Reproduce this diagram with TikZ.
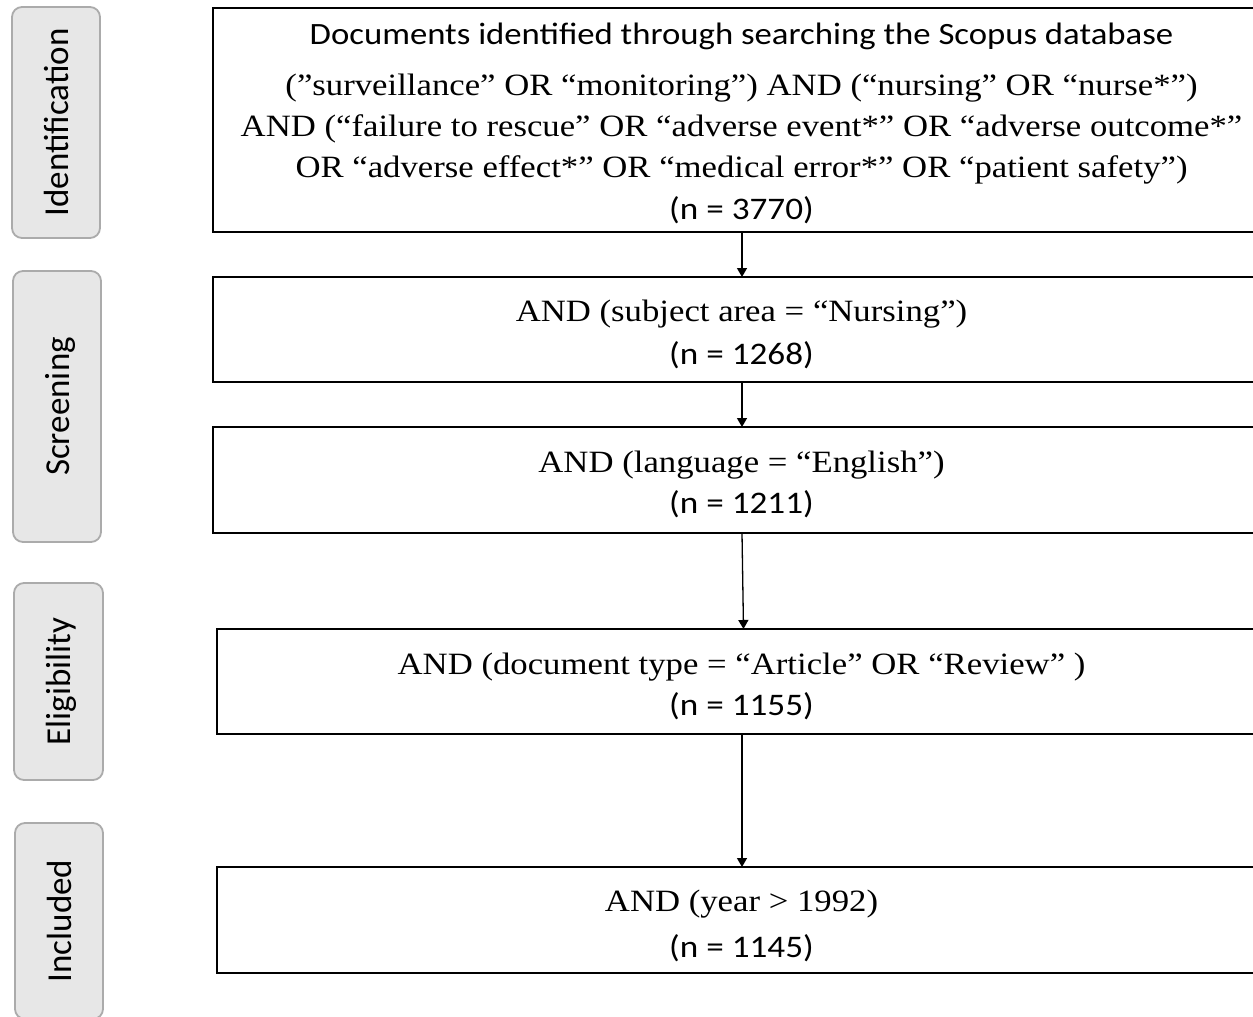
\documentclass[tikz,border=0pt]{standalone}
\usepackage{fontspec}
\setmainfont{Liberation Serif}
\newfontfamily\serifS{Liberation Serif}[FakeStretch=1.12]
\newfontfamily\sansS{Carlito}[FakeStretch=1.12]
\newfontfamily\sideS{Carlito}
\usetikzlibrary{arrows.meta}
\definecolor{sidefill}{HTML}{E7E7E7}
\definecolor{sideline}{HTML}{ABABAB}
\tikzset{
  mainbox/.style={draw=black, line width=2pt, inner sep=0pt, outer sep=0pt},
  sidebox/.style={draw=sideline, fill=sidefill, line width=1.8pt, rounded corners=10pt,
    rotate=90, inner sep=0pt, outer sep=0pt,
    font=\sideS\fontsize{35}{42}\selectfont, text height=24pt, text depth=0pt},
  sertxt/.style={anchor=base, inner sep=0pt, font=\serifS\fontsize{31}{37}\selectfont},
  santxt/.style={anchor=base, inner sep=0pt, font=\sansS\fontsize{31}{37}\selectfont},
  numtxt/.style={anchor=base, inner sep=0pt, font=\sansS\fontsize{31.4}{37}\selectfont},
  arr/.style={line width=1.3pt, -{Triangle[length=9pt,width=10pt]}}
}
\begin{document}
\begin{tikzpicture}[x=1pt,y=-1pt]
\useasboundingbox (0,0) rectangle (1253,1017);
% side labels
\node[sidebox, minimum width=231pt, minimum height=88pt] (sid) at (56,122.5) {Identification};
\node[sidebox, minimum width=271pt, minimum height=88pt] (sscr) at (57,406.5) {Screening};
\node[sidebox, minimum width=197pt, minimum height=89pt] (selig) at (58.5,681.5) {Eligibility};
\node[sidebox, minimum width=196pt, minimum height=88pt] (sinc) at (59,921) {Included};
% main boxes
\node[mainbox, minimum width=1058pt, minimum height=224pt] (b1) at (742,120) {};
\node[mainbox, minimum width=1058pt, minimum height=105pt] (b2) at (742,329.5) {};
\node[mainbox, minimum width=1058pt, minimum height=106pt] (b3) at (742,480) {};
\node[mainbox, minimum width=1050pt, minimum height=105pt] (b4) at (742,681.5) {};
\node[mainbox, minimum width=1050pt, minimum height=106pt] (b5) at (742,920) {};
% texts box 1
\node[santxt] (t1a) at (741.5,44) {Documents identified through searching the Scopus database};
\node[sertxt] (t1b) at (741.5,95) {(”surveillance” OR “monitoring”) AND (“nursing” OR “nurse*”)};
\node[sertxt] (t1c) at (741.5,136.5) {AND (“failure to rescue” OR “adverse event*” OR “adverse outcome*”};
\node[sertxt] (t1d) at (741.5,177.5) {OR “adverse effect*” OR “medical error*” OR “patient safety”)};
\node[numtxt] (t1e) at (741.5,219) {(n = 3770)};
% box 2
\node[sertxt] (t2a) at (741.5,321) {AND (subject area = “Nursing”)};
\node[numtxt] (t2b) at (741.5,364) {(n = 1268)};
% box 3
\node[sertxt] (t3a) at (741.5,472) {AND (language = “English”)};
\node[numtxt] (t3b) at (741.5,513) {(n = 1211)};
% box 4
\node[sertxt] (t4a) at (741.5,674) {AND (document type = “Article” OR “Review” )};
\node[numtxt] (t4b) at (741.5,715) {(n = 1155)};
% box 5
\node[sertxt] (t5a) at (741.5,911) {AND (year > 1992)};
\node[numtxt] (t5b) at (741.5,957) {(n = 1145)};
% arrows
\draw[arr] (b1.south) -- (b2.north);
\draw[arr] (b2.south) -- (b3.north);
\draw[arr] (b3.south) -- ([xshift=1.5pt]b4.north);
\draw[arr] (b4.south) -- (b5.north);
\end{tikzpicture}
\end{document}
